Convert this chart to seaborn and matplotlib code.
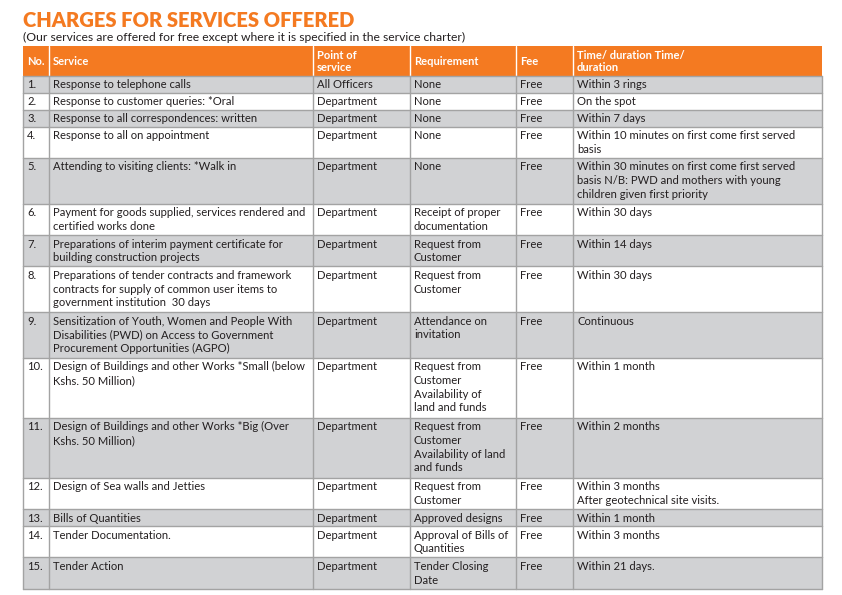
import matplotlib
matplotlib.use("Agg")
import matplotlib.pyplot as plt
import seaborn as sns
from matplotlib.patches import Rectangle

# table content
headers = ["No.", "Service", "Point of\nservice", "Requirement", "Fee",
           "Time/ duration Time/\nduration"]
numbers = ["1.", "2.", "3.", "4.", "5.", "6.", "7.", "8.", "9.", "10.",
           "11.", "12.", "13.", "14.", "15."]
services = [
    "Response to telephone calls",
    "Response to customer queries: *Oral",
    "Response to all correspondences: written",
    "Response to all on appointment",
    "Attending to visiting clients: *Walk in",
    "Payment for goods supplied, services rendered and\ncertified works done",
    "Preparations of interim payment certificate for\nbuilding construction projects",
    "Preparations of tender contracts and framework\ncontracts for supply of common user items to\ngovernment institution  30 days",
    "Sensitization of Youth, Women and People With\nDisabilities (PWD) on Access to Government\nProcurement Opportunities (AGPO)",
    "Design of Buildings and other Works *Small (below\nKshs. 50 Million)",
    "Design of Buildings and other Works *Big (Over\nKshs. 50 Million)",
    "Design of Sea walls and Jetties",
    "Bills of Quantities",
    "Tender Documentation.",
    "Tender Action",
]
points = ["All Officers"] + ["Department"] * 14
requirements = [
    "None", "None", "None", "None", "None",
    "Receipt of proper\ndocumentation",
    "Request from\nCustomer",
    "Request from\nCustomer",
    "Attendance on\ninvitation",
    "Request from\nCustomer\nAvailability of\nland and funds",
    "Request from\nCustomer\nAvailability of land\nand funds",
    "Request from\nCustomer",
    "Approved designs",
    "Approval of Bills of\nQuantities",
    "Tender Closing\nDate",
]
fees = ["Free"] * 15
durations = [
    "Within 3 rings",
    "On the spot",
    "Within 7 days",
    "Within 10 minutes on first come first served\nbasis",
    "Within 30 minutes on first come first served\nbasis N/B: PWD and mothers with young\nchildren given first priority",
    "Within 30 days",
    "Within 14 days",
    "Within 30 days",
    "Continuous",
    "Within 1 month",
    "Within 2 months",
    "Within 3 months\nAfter geotechnical site visits.",
    "Within 1 month",
    "Within 3 months",
    "Within 21 days.",
]

ORANGE = "#f47a21"
GREY = "#d1d2d4"
LINE = "#a3a3a3"

sns.set_theme(style="white")
plt.rcParams["font.family"] = ["Lato", "DejaVu Sans"]

W, H = 842, 595
fig = plt.figure(figsize=(W / 100, H / 100), dpi=100)
ax = fig.add_axes([0, 0, 1, 1])
ax.set_xlim(0, W)
ax.set_ylim(H, 0)
ax.axis("off")

ax.text(23, 27, "CHARGES FOR SERVICES OFFERED", color=ORANGE, fontsize=14.5,
        fontweight="heavy", va="baseline", ha="left")
ax.text(23, 41, "(Our services are offered for free except where it is specified in the service charter)",
        color="#231f20", fontsize=8.7, va="baseline", ha="left")

col_edges = [23, 49, 313, 410, 516, 573, 822]
head_top, head_bot = 46, 76

# header
ax.add_patch(Rectangle((col_edges[0], head_top), col_edges[-1] - col_edges[0],
                       head_bot - head_top, color=ORANGE, lw=0))
for x in col_edges[1:-1]:
    ax.plot([x, x], [head_top, head_bot], color="white", lw=1)
for i, h in enumerate(headers):
    ax.text(col_edges[i] + 4, (head_top + head_bot) / 2 + 0.5, h, color="white",
            fontsize=8, fontweight="bold", va="center", ha="left", linespacing=1.2)

# body rows
columns = [numbers, services, points, requirements, fees, durations]
y = head_bot
for r in range(len(numbers)):
    n_lines = max(col[r].count("\n") + 1 for col in columns)
    rh = 2.5 + 14.4 * n_lines
    if r % 2 == 0:
        ax.add_patch(Rectangle((col_edges[0], y), col_edges[-1] - col_edges[0], rh,
                               color=GREY, lw=0))
    for c, col in enumerate(columns):
        ax.text(col_edges[c] + 4, y + 3.5, col[r], color="#231f20", fontsize=8.1,
                va="top", ha="left", linespacing=1.3)
    ax.plot([col_edges[0], col_edges[-1]], [y, y], color=LINE, lw=1)
    for x in col_edges:
        ax.plot([x, x], [y, y + rh], color=LINE, lw=1)
    y += rh
ax.plot([col_edges[0], col_edges[-1]], [y, y], color=LINE, lw=1)

fig.savefig("out.png", dpi=100)
